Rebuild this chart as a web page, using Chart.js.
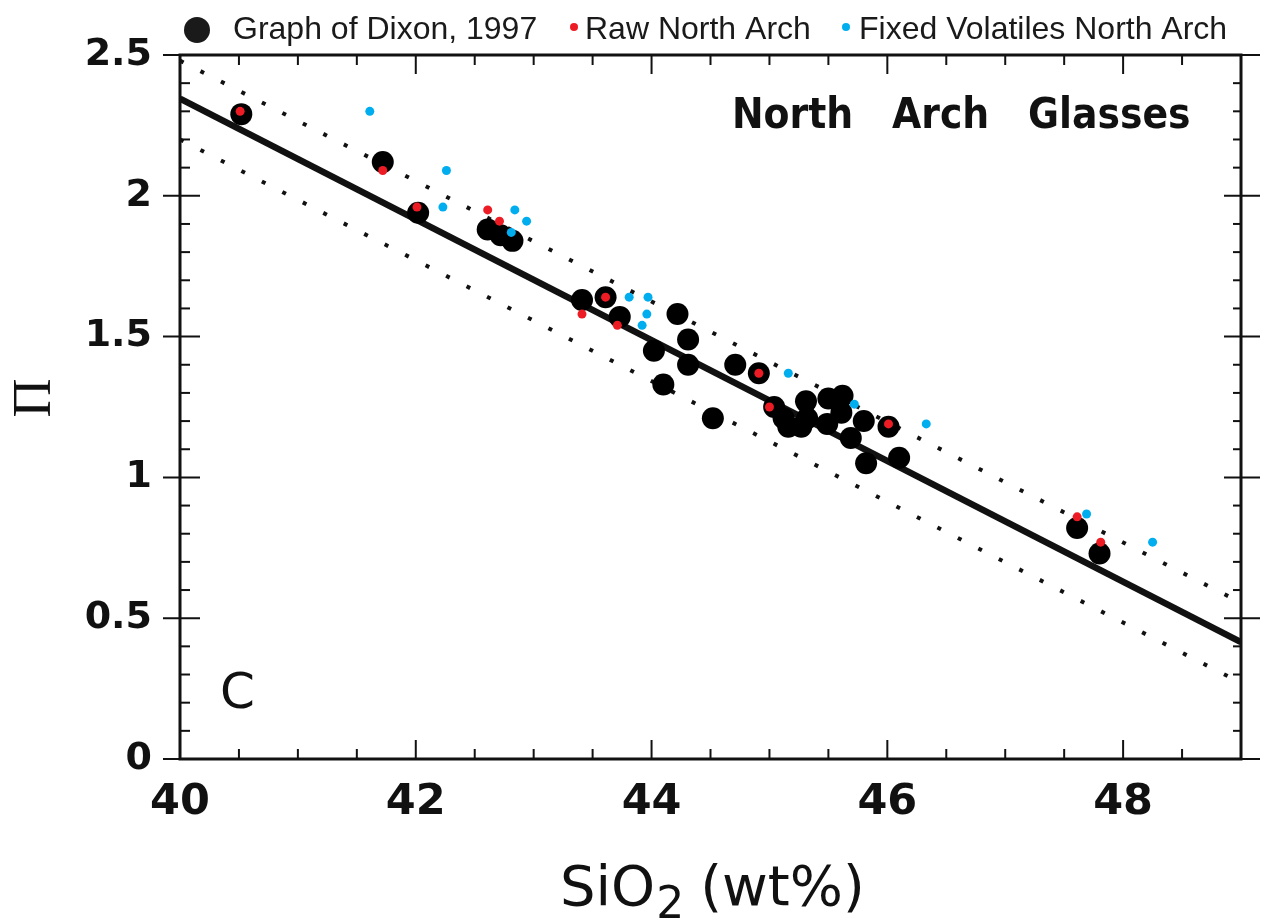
<!DOCTYPE html>
<html>
<head>
<meta charset="utf-8">
<script src="https://cdn.jsdelivr.net/npm/chart.js@4/dist/chart.umd.min.js"></script>
<style>
  html, body { margin: 0; padding: 0; background: #fff; }
  #c { display: block; }
</style>
</head>
<body>
<canvas id="c" width="1265" height="920"></canvas>
<script>
// ---- data ----
const dixonX = [40.52, 41.72, 42.02, 42.61, 42.72, 42.82, 43.41, 43.61, 43.73, 44.22, 44.31, 44.31, 44.02, 44.10, 44.52, 44.71, 44.91, 45.04, 45.12, 45.16, 45.27, 45.31, 45.32, 45.50, 45.62, 45.49, 45.61, 45.69, 45.80, 46.01, 45.82, 46.10, 47.61, 47.80];
const dixonY = [2.29, 2.12, 1.94, 1.88, 1.86, 1.84, 1.63, 1.64, 1.57, 1.58, 1.49, 1.40, 1.45, 1.33, 1.21, 1.40, 1.37, 1.25, 1.21, 1.18, 1.18, 1.27, 1.21, 1.28, 1.29, 1.19, 1.23, 1.14, 1.20, 1.18, 1.05, 1.07, 0.82, 0.73];

const rawX = [40.51, 41.72, 42.01, 42.61, 42.71, 43.41, 43.61, 43.71, 44.91, 45.00, 46.01, 47.61, 47.81];
const rawY = [2.30, 2.09, 1.96, 1.95, 1.91, 1.58, 1.64, 1.54, 1.37, 1.25, 1.19, 0.86, 0.77];

const fixedX = [41.61, 42.26, 42.23, 42.84, 42.94, 42.81, 43.81, 43.97, 43.96, 43.92, 45.16, 45.72, 46.33, 47.69, 48.25];
const fixedY = [2.30, 2.09, 1.96, 1.95, 1.91, 1.87, 1.64, 1.64, 1.58, 1.54, 1.37, 1.26, 1.19, 0.87, 0.77];

const fitX = [40, 49];
const fitY = [2.345, 0.415];
const upperY = [2.48, 0.555];
const lowerY = [2.20, 0.27];

const xTickLabels = [40, 42, 44, 46, 48];
const yTickLabels = [0, 0.5, 1, 1.5, 2, 2.5];

const legendLabels = ['Graph of Dixon, 1997', 'Raw North Arch', 'Fixed Volatiles North Arch'];
const panelTitle = ['North', 'Arch', 'Glasses'];
const panelLetter = 'C';
const xTitleParts = ['SiO', '2', '(wt%)'];
const yTitle = 'Π';

// ---- helpers ----
const pts = (xs, ys) => xs.map((v, i) => ({ x: v, y: ys[i] }));
const RED = '#ED1C24', BLUE = '#00AEEF', INK = '#111111';

const frameTicks = {
  id: 'frameTicks',
  afterDatasetsDraw(chart) {
    const { ctx, chartArea: a, scales: { x, y } } = chart;
    ctx.save();
    ctx.strokeStyle = INK;
    ctx.lineCap = 'butt';
    const seg = (x1, y1, x2, y2) => { ctx.beginPath(); ctx.moveTo(x1, y1); ctx.lineTo(x2, y2); ctx.stroke(); };
    ctx.lineWidth = 2;
    for (let k = 0; k <= 18; k++) {
      const v = x.min + k * 0.5;
      const px = x.getPixelForValue(v);
      const L = (k % 4 === 0) ? 19 : 10;
      seg(px, a.bottom, px, a.bottom - L);
      seg(px, a.top, px, a.top + L);
    }
    for (let k = 0; k <= 25; k++) {
      const v = k * 0.1;
      const py = y.getPixelForValue(v);
      if (k % 5 === 0) {
        seg(a.left - 17, py, a.left + 20, py);
        seg(a.right - 17, py, a.right + 19, py);
      } else {
        seg(a.left, py, a.left + 10, py);
        seg(a.right - 8, py, a.right, py);
      }
    }
    ctx.lineWidth = 3;
    ctx.strokeRect(a.left, a.top, a.right - a.left, a.bottom - a.top);
    ctx.restore();
  },
  afterDraw(chart) {
    const { ctx } = chart;
    ctx.save();
    ctx.fillStyle = INK;
    ctx.textBaseline = 'alphabetic';
    ctx.textAlign = 'left';
    // panel title
    ctx.font = 'bold 42px "DejaVu Sans Condensed", "DejaVu Sans", sans-serif';
    ctx.fillText(panelTitle[0], 732, 128);
    ctx.fillText(panelTitle[1], 892, 128);
    ctx.fillText(panelTitle[2], 1028, 128);
    // panel letter
    ctx.font = '50px "DejaVu Sans", sans-serif';
    ctx.fillText(panelLetter, 220, 708);
    // x-axis title with subscript
    ctx.font = '56px "DejaVu Sans", sans-serif';
    let xx = 560;
    ctx.fillText(xTitleParts[0], xx, 905);
    xx += ctx.measureText(xTitleParts[0]).width + 1;
    ctx.font = '44px "DejaVu Sans", sans-serif';
    ctx.fillText(xTitleParts[1], xx, 918);
    xx += ctx.measureText(xTitleParts[1]).width + 16;
    ctx.font = '56px "DejaVu Sans", sans-serif';
    ctx.fillText(xTitleParts[2], xx, 905);
    // y-axis title (rotated)
    ctx.save();
    ctx.translate(50, 398);
    ctx.rotate(-Math.PI / 2);
    ctx.textAlign = 'center';
    ctx.font = '54px "Liberation Serif", "DejaVu Serif", serif';
    ctx.fillText(yTitle, 0, 0);
    ctx.restore();
    // legend
    ctx.font = '32px "Liberation Sans", Arial, sans-serif';
    ctx.beginPath(); ctx.arc(197, 30, 13, 0, Math.PI * 2); ctx.fillStyle = '#1a1a1a'; ctx.fill();
    ctx.fillStyle = '#1a1a1a';
    ctx.fillText(legendLabels[0], 233, 39);
    ctx.beginPath(); ctx.arc(574, 27, 4, 0, Math.PI * 2); ctx.fillStyle = RED; ctx.fill();
    ctx.fillStyle = '#1a1a1a';
    ctx.fillText(legendLabels[1], 585, 39);
    ctx.beginPath(); ctx.arc(846, 27, 4, 0, Math.PI * 2); ctx.fillStyle = BLUE; ctx.fill();
    ctx.fillStyle = '#1a1a1a';
    ctx.fillText(legendLabels[2], 859, 39);
    ctx.restore();
  }
};

new Chart(document.getElementById('c'), {
  type: 'scatter',
  data: {
    datasets: [
      { type: 'line', order: 5, data: pts(fitX, upperY), borderColor: INK, borderWidth: 4, borderDash: [4, 19], pointRadius: 0, fill: false },
      { type: 'line', order: 4, data: pts(fitX, lowerY), borderColor: INK, borderWidth: 4, borderDash: [4, 19], pointRadius: 0, fill: false },
      { type: 'line', order: 3, data: pts(fitX, fitY), borderColor: INK, borderWidth: 6.5, pointRadius: 0, fill: false },
      { order: 2, label: legendLabels[0], data: pts(dixonX, dixonY), backgroundColor: '#000', borderWidth: 0, pointRadius: 11 },
      { order: 1, label: legendLabels[1], data: pts(rawX, rawY), backgroundColor: RED, borderWidth: 0, pointRadius: 4.5 },
      { order: 0, label: legendLabels[2], data: pts(fixedX, fixedY), backgroundColor: BLUE, borderWidth: 0, pointRadius: 4.5 }
    ]
  },
  options: {
    responsive: false,
    devicePixelRatio: 1,
    animation: false,
    events: [],
    layout: { padding: { top: 55, right: 24, left: 0, bottom: 0 } },
    plugins: { legend: { display: false }, tooltip: { enabled: false } },
    scales: {
      x: {
        type: 'linear', min: 40, max: 49,
        afterFit: s => { s.height = 161; },
        afterBuildTicks: s => { s.ticks = xTickLabels.map(v => ({ value: v })); },
        grid: { display: false, drawTicks: false },
        border: { display: false },
        ticks: { color: INK, padding: 18, font: { family: '"DejaVu Sans", sans-serif', size: 43, weight: 'bold' }, callback: v => String(v) },
        title: { display: false }
      },
      y: {
        type: 'linear', min: 0, max: 2.5,
        afterFit: s => { s.width = 180; },
        afterBuildTicks: s => { s.ticks = yTickLabels.map(v => ({ value: v })); },
        grid: { display: false, drawTicks: false },
        border: { display: false },
        ticks: { color: INK, padding: 28, font: { family: '"DejaVu Sans", sans-serif', size: 38, weight: 'bold' }, callback: v => String(v) },
        title: { display: false }
      }
    }
  },
  plugins: [frameTicks]
});
</script>
</body>
</html>
